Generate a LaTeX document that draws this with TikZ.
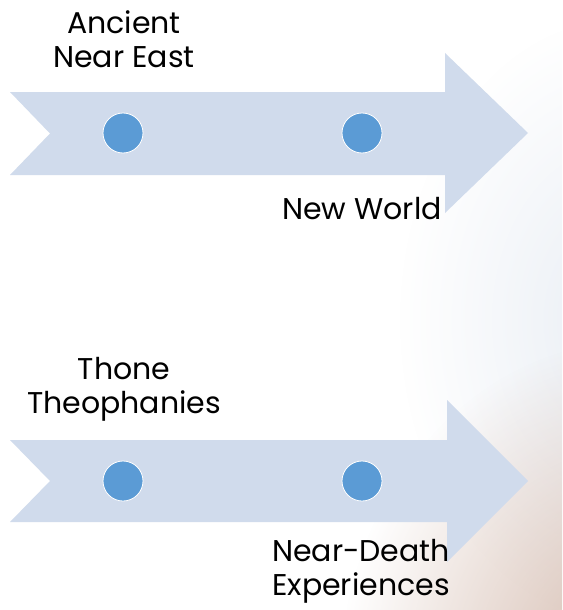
\documentclass[tikz,border=0pt]{standalone}
\usepackage{fontspec}
\setmainfont{Poppins}
\usetikzlibrary{fadings}
\definecolor{arrowfill}{RGB}{208,219,236}
\definecolor{dotfill}{RGB}{91,155,213}
\definecolor{peach}{RGB}{205,175,160}
\definecolor{haze}{RGB}{228,234,242}
\tikzfading[name=radfade, inner color=transparent!0, outer color=transparent!100]
\tikzset{
  band/.style={fill=arrowfill, draw=none},
  dot/.style={circle, fill=dotfill, draw=white, line width=0.8pt, minimum size=40pt, inner sep=0pt},
  lbl/.style={align=center, anchor=base, inner sep=0pt, text=black, font=\fontsize{30}{34}\selectfont}
}
\begin{document}
\begin{tikzpicture}[x=1pt, y=-1pt]
\useasboundingbox (0,0) rectangle (562,610);
\fill[white] (0,0) rectangle (562,610);
% background haze
\begin{scope}
\clip (0,0) rectangle (562,610);
\fill[haze, path fading=radfade, fill opacity=0.8] (620,320) ellipse (220 and 300);
\fill[peach, path fading=radfade, fill opacity=0.9] (640,680) ellipse (300 and 340);
\end{scope}
% arrows
\fill[band] (10,92) -- (445,92) -- (445,53) -- (528,133) -- (445,213) -- (445,175) -- (10,175) -- (50,133.5) -- cycle;
\fill[band] (10,440) -- (447,440) -- (447,400) -- (528,481) -- (447,562) -- (447,522) -- (10,522) -- (50,481) -- cycle;
% dots
\node[dot] (d1) at (123,133) {};
\node[dot] (d2) at (362,133) {};
\node[dot] (d3) at (123,481) {};
\node[dot] (d4) at (362,481) {};
% labels (base = baseline of last line)
\node[lbl] (l1) at (124,67) {Ancient\\Near East};
\node[lbl] (l2) at (362,219) {New World};
\node[lbl] (l3) at (124,413) {Thone\\Theophanies};
\node[lbl] (l4) at (361,595) {Near-Death\\Experiences};
\end{tikzpicture}
\end{document}
